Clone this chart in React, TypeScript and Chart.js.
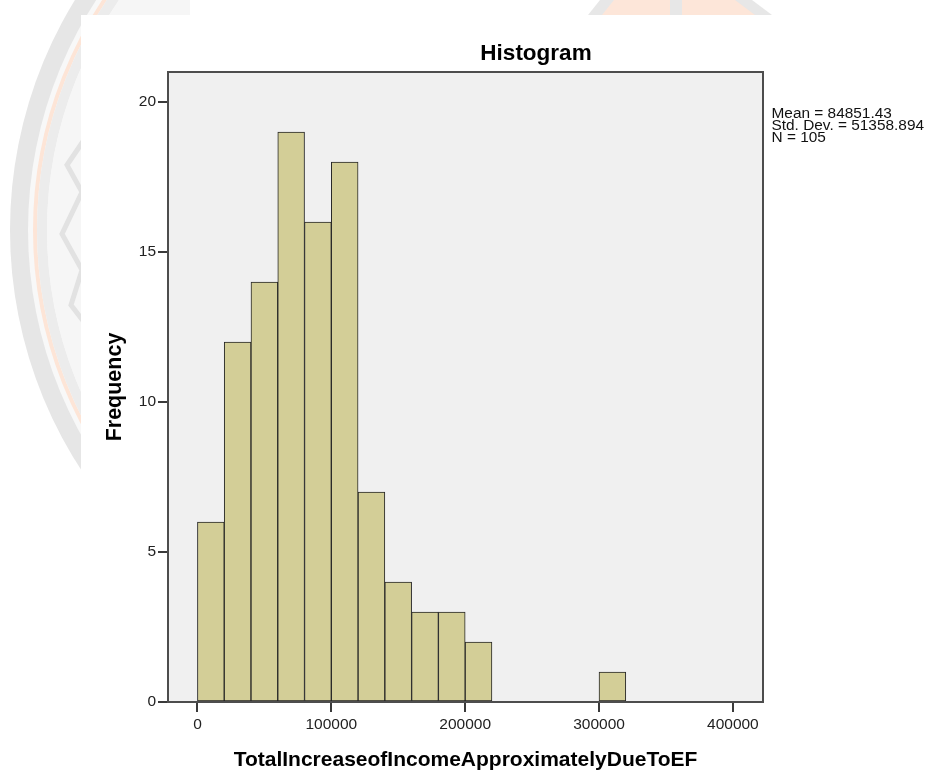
import { useEffect, useRef } from "react";
import { Chart, registerables } from "chart.js";

Chart.register(...registerables);

// Histogram bins (lower edge of each 20000-wide bin) and their counts
const binStarts = [
  0, 20000, 40000, 60000, 80000, 100000, 120000, 140000, 160000, 180000,
  200000, 220000, 240000, 260000, 280000, 300000,
];
const frequencies = [6, 12, 14, 19, 16, 18, 7, 4, 3, 3, 2, 0, 0, 0, 0, 1];
const binWidth = 20000;

const xTickValues = [0, 100000, 200000, 300000, 400000];
const yTickValues = [0, 5, 10, 15, 20];

const statMean = "84851.43";
const statStdDev = "51358.894";

const chartTitle = "Histogram";
const xTitle = "TotalIncreaseofIncomeApproximatelyDueToEF";
const yTitle = "Frequency";

const FONT = "'Liberation Sans', Arial, Helvetica, sans-serif";

const decorPlugin = {
  id: "decor",
  beforeDraw(chart: any) {
    const { ctx, width, height, chartArea } = chart;
    ctx.save();
    ctx.fillStyle = "#ffffff";
    ctx.fillRect(0, 0, width, height);

    // faint emblem behind the sheet (left part only)
    ctx.save();
    ctx.beginPath();
    ctx.rect(0, 0, 190, height);
    ctx.clip();
    const cx = 450;
    const cy = 230;
    ctx.fillStyle = "#e6e6e6";
    ctx.beginPath();
    ctx.arc(cx, cy, 440, 0, Math.PI * 2);
    ctx.fill();
    ctx.fillStyle = "#f8f8f8";
    ctx.beginPath();
    ctx.arc(cx, cy, 422, 0, Math.PI * 2);
    ctx.fill();
    ctx.strokeStyle = "#fde5d7";
    ctx.lineWidth = 4;
    ctx.beginPath();
    ctx.arc(cx, cy, 415, 0, Math.PI * 2);
    ctx.stroke();
    ctx.strokeStyle = "#ececec";
    ctx.lineWidth = 10;
    ctx.beginPath();
    ctx.arc(cx, cy, 408, 0, Math.PI * 2);
    ctx.stroke();
    ctx.fillStyle = "#f6f6f6";
    ctx.beginPath();
    ctx.arc(cx, cy, 403, 0, Math.PI * 2);
    ctx.fill();

    ctx.strokeStyle = "#e2e2e2";
    ctx.lineWidth = 5;
    ctx.beginPath();
    ctx.moveTo(84, 140);
    ctx.lineTo(67, 165);
    ctx.lineTo(82, 192);
    ctx.lineTo(62, 234);
    ctx.lineTo(82, 270);
    ctx.lineTo(71, 305);
    ctx.lineTo(84, 322);
    ctx.stroke();
    ctx.restore();

    // emblem detail near the top edge
    ctx.fillStyle = "#fde6d9";
    ctx.beginPath();
    ctx.moveTo(600, 15);
    ctx.lineTo(612, 0);
    ctx.lineTo(745, 0);
    ctx.lineTo(762, 15);
    ctx.closePath();
    ctx.fill();
    ctx.fillStyle = "#e7e7e7";
    ctx.beginPath();
    ctx.moveTo(588, 15);
    ctx.lineTo(600, 0);
    ctx.lineTo(614, 0);
    ctx.lineTo(602, 15);
    ctx.closePath();
    ctx.fill();
    ctx.fillRect(670, 0, 12, 15);
    ctx.beginPath();
    ctx.moveTo(735, 0);
    ctx.lineTo(752, 0);
    ctx.lineTo(772, 15);
    ctx.lineTo(755, 15);
    ctx.closePath();
    ctx.fill();

    // output sheet
    ctx.fillStyle = "#ffffff";
    ctx.fillRect(81, 15, width - 81, height - 15);

    // plot background
    ctx.fillStyle = "#f0f0f0";
    ctx.fillRect(
      chartArea.left,
      chartArea.top,
      chartArea.right - chartArea.left,
      chartArea.bottom - chartArea.top
    );
    ctx.restore();
  },
  afterDatasetsDraw(chart: any) {
    const { ctx, chartArea } = chart;
    ctx.save();
    ctx.strokeStyle = "#4d4d4d";
    ctx.lineWidth = 2;
    ctx.strokeRect(
      chartArea.left,
      chartArea.top,
      chartArea.right - chartArea.left,
      chartArea.bottom - chartArea.top
    );
    ctx.restore();
  },
  afterDraw(chart: any) {
    const { ctx } = chart;
    const total = frequencies.reduce((a, b) => a + b, 0);
    ctx.save();
    ctx.fillStyle = "#000000";
    ctx.font = `bold 22.5px ${FONT}`;
    ctx.textAlign = "center";
    ctx.textBaseline = "alphabetic";
    ctx.fillText(chartTitle, 536, 59.5);

    // summary statistics, slightly widened glyphs
    ctx.fillStyle = "#111111";
    ctx.font = `14px ${FONT}`;
    ctx.textAlign = "left";
    const lines = [
      `Mean = ${statMean}`,
      `Std. Dev. = ${statStdDev}`,
      `N = ${total}`,
    ];
    ctx.translate(771.5, 0);
    ctx.scale(1.1, 1);
    lines.forEach((t, i) => ctx.fillText(t, 0, 118 + i * 12));
    ctx.restore();
  },
};

export default function App() {
  const canvasRef = useRef<HTMLCanvasElement | null>(null);

  useEffect(() => {
    if (!canvasRef.current) return;
    const points = binStarts.map((start, i) => ({
      x: start + binWidth / 2,
      y: frequencies[i],
    }));

    const tickGrid = {
      drawOnChartArea: false,
      drawTicks: true,
      tickLength: 10,
      color: "#3a3a3a",
      lineWidth: 2,
      offset: false,
    };

    const chart = new Chart(canvasRef.current, {
      type: "bar",
      data: {
        datasets: [
          {
            data: points,
            backgroundColor: "#d3ce97",
            borderColor: "#262626",
            borderWidth: 1,
            borderSkipped: false,
            barPercentage: 1,
            categoryPercentage: 1,
          } as any,
        ],
      },
      options: {
        animation: false,
        responsive: false,
        events: [],
        layout: { padding: { left: 0, top: 72, right: 166, bottom: 0 } },
        plugins: {
          legend: { display: false },
          tooltip: { enabled: false },
          title: { display: false },
        },
        scales: {
          x: {
            type: "linear",
            offset: false,
            min: -22000,
            max: 422500,
            afterBuildTicks: (s: any) => {
              s.ticks = xTickValues.map((v) => ({ value: v }));
            },
            afterFit: (s: any) => {
              s.height = 69;
            },
            grid: tickGrid,
            border: { display: false },
            ticks: {
              color: "#222222",
              font: { family: FONT, size: 15.5 },
              padding: 3,
              maxRotation: 0,
              autoSkip: false,
              callback: (v: any) => String(v),
            },
            title: {
              display: true,
              text: xTitle,
              color: "#000000",
              font: { family: FONT, size: 21, weight: "bold", lineHeight: 1.05 },
              padding: { top: 0, bottom: 0 },
            },
          },
          y: {
            type: "linear",
            min: 0,
            max: 21,
            afterBuildTicks: (s: any) => {
              s.ticks = yTickValues.map((v) => ({ value: v }));
            },
            afterFit: (s: any) => {
              s.width = 168;
            },
            grid: tickGrid,
            border: { display: false },
            ticks: {
              color: "#222222",
              font: { family: FONT, size: 15.5 },
              padding: 2,
              autoSkip: false,
              callback: (v: any) => String(v),
            },
            title: {
              display: true,
              text: yTitle,
              color: "#000000",
              font: { family: FONT, size: 21.5, weight: "bold", lineHeight: 1.05 },
              padding: { top: 104, bottom: 0 },
            },
          },
        },
      } as any,
      plugins: [decorPlugin],
    });

    return () => chart.destroy();
  }, []);

  return (
    <div style={{ position: "absolute", left: 0, top: 0, width: 929, height: 771 }}>
      <canvas ref={canvasRef} width={929} height={771} style={{ display: "block" }} />
    </div>
  );
}
